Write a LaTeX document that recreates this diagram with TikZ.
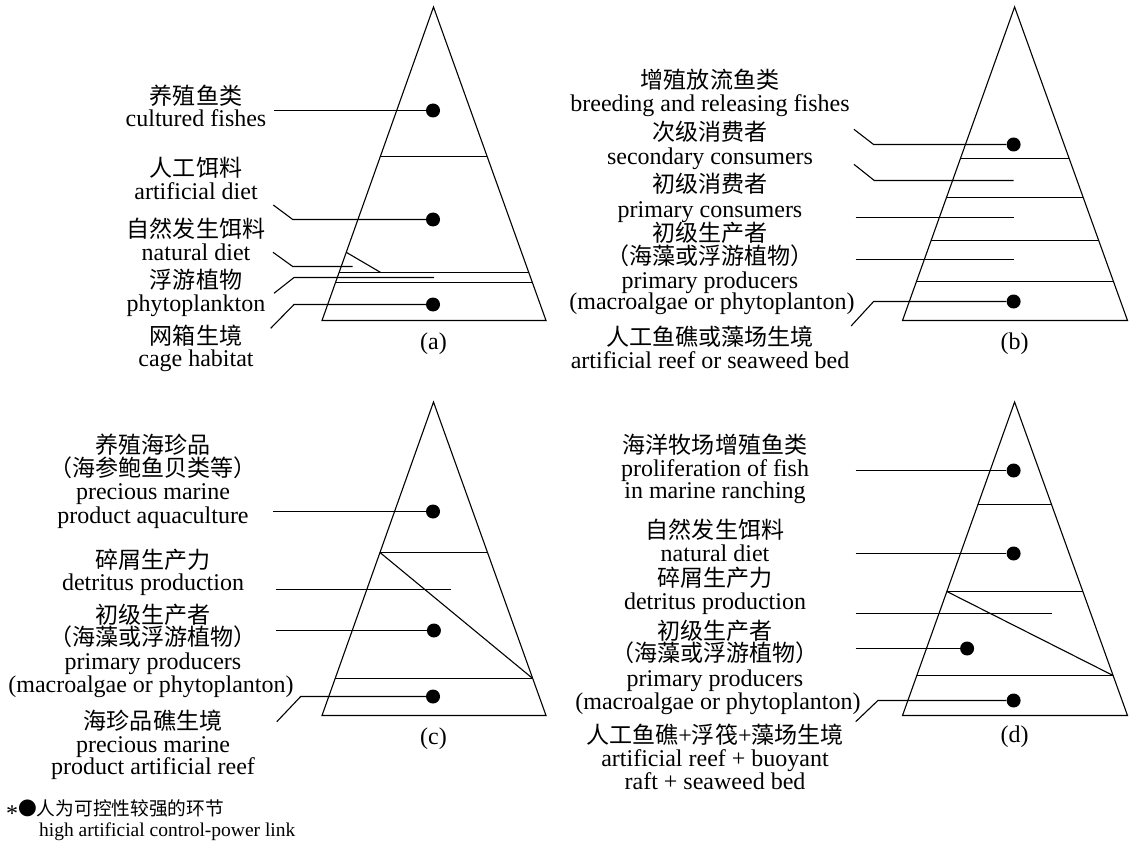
\documentclass[tikz,border=0pt]{standalone}
\usepackage{fontspec}
\setmainfont{Liberation Serif}
\newfontfamily\cjk{Noto Sans CJK SC}[Scale=0.96]
\usetikzlibrary{calc}

\tikzset{
  edge/.style={line width=1.1pt, line join=miter},
  dot/.style={circle, fill=black, inner sep=0pt, minimum size=14pt},
  txt/.style={anchor=base, inner sep=0pt, font=\fontsize{24}{24}\selectfont},
  note/.style={anchor=base west, inner sep=0pt, font=\fontsize{19.5}{19.5}\selectfont},
}
% one centred line of text, given by its visual centre
\newcommand\txtline[4]{\node[txt] (#1) at (#2,{#3+8}) {#4};}
% a layer boundary across pyramid #1 (apex y #2, base y #3) at height y #4
\newcommand\layer[4]{%
  \pgfmathsetmacro\lf{(#4-#2)/(#3-#2)}%
  \draw[edge] ($(#1T)!\lf!(#1L)$) -- ($(#1T)!\lf!(#1R)$);}
% a point on the left (#2=L) or right (#2=R) side of pyramid #1 at height y #5
\newcommand\sidept[6]{%
  \pgfmathsetmacro\lf{(#5-#3)/(#4-#3)}%
  \coordinate (#6) at ($(#1T)!\lf!(#1#2)$);}

\begin{document}
\begin{tikzpicture}[x=1pt, y=-1pt]
\useasboundingbox (0,0) rectangle (1129,842);

% ---------------- pyramid (a) ----------------
\coordinate (aT) at (433.5,7);
\coordinate (aL) at (322,320.5);
\coordinate (aR) at (546,320.5);
\draw[edge] (aT) -- (aL) -- (aR) -- cycle;
\layer{a}{7}{320.5}{156.5}
\layer{a}{7}{320.5}{272.5}
\layer{a}{7}{320.5}{282.5}
\sidept{a}{L}{7}{320.5}{252.3}{aDs}
\coordinate (aDe) at (380.7,272.5);
\draw[edge] (aDs) -- (aDe);

\node[dot] (aD1) at (433,110.5) {};
\node[dot] (aD2) at (433,219.5) {};
\node[dot] (aD3) at (433,304.5) {};
\coordinate (aS1) at (274,110.5);
\coordinate (aS2) at (273.3,205);   \coordinate (aK2) at (292.7,219.5);
\coordinate (aS3) at (273,252.3);   \coordinate (aK3) at (292.7,266.5); \coordinate (aE3) at (352.7,266.5);
\coordinate (aS4) at (274,293.3);   \coordinate (aK4) at (294,277.5);   \coordinate (aE4) at (434,277.5);
\coordinate (aS5) at (270.7,328.3); \coordinate (aK5) at (294,304.5);
\draw[edge] (aS1) -- (aD1);
\draw[edge] (aS2) -- (aK2) -- (aD2);
\draw[edge] (aS3) -- (aK3) -- (aE3);
\draw[edge] (aS4) -- (aK4) -- (aE4);
\draw[edge] (aS5) -- (aK5) -- (aD3);

\txtline{a1}{196}{96.7}{\cjk 养殖鱼类}
\txtline{a2}{196}{119}{cultured fishes}
\txtline{a3}{196}{168.3}{\cjk 人工饵料}
\txtline{a4}{196}{191.7}{artificial diet}
\txtline{a5}{196}{230}{\cjk 自然发生饵料}
\txtline{a6}{196}{252.3}{natural diet}
\txtline{a7}{196}{280}{\cjk 浮游植物}
\txtline{a8}{196}{303.3}{phytoplankton}
\txtline{a9}{196}{336.7}{\cjk 网箱生境}
\txtline{a10}{196}{358.3}{cage habitat}
\txtline{aCap}{433.5}{341.7}{(a)}

% ---------------- pyramid (b) ----------------
\coordinate (bT) at (1014.6,7);
\coordinate (bL) at (902.5,320.5);
\coordinate (bR) at (1127.5,320.5);
\draw[edge] (bT) -- (bL) -- (bR) -- cycle;
\layer{b}{7}{320.5}{158.5}
\layer{b}{7}{320.5}{197.5}
\layer{b}{7}{320.5}{240.5}
\layer{b}{7}{320.5}{281.5}

\node[dot] (bD1) at (1013.6,144.5) {};
\node[dot] (bD2) at (1013.6,301.5) {};
\coordinate (bS1) at (853.9,129.3); \coordinate (bK1) at (873.6,144.5);
\coordinate (bS2) at (853.9,164.3); \coordinate (bK2) at (874.3,180.5); \coordinate (bE2) at (1013.6,180.5);
\coordinate (bS3) at (855.7,217.5); \coordinate (bE3) at (1013.6,217.5);
\coordinate (bS4) at (855.7,259.5); \coordinate (bE4) at (1013.6,259.5);
\coordinate (bS5) at (851.1,326);   \coordinate (bK5) at (873.6,301.5);
\draw[edge] (bS1) -- (bK1) -- (bD1);
\draw[edge] (bS2) -- (bK2) -- (bE2);
\draw[edge] (bS3) -- (bE3);
\draw[edge] (bS4) -- (bE4);
\draw[edge] (bS5) -- (bK5) -- (bD2);

\txtline{b1}{710}{81}{\cjk 增殖放流鱼类}
\txtline{b2}{710}{103.3}{breeding and releasing fishes}
\txtline{b3}{710}{132.7}{\cjk 次级消费者}
\txtline{b4}{710}{156.7}{secondary consumers}
\txtline{b5}{710}{185}{\cjk 初级消费者}
\txtline{b6}{710}{210}{primary consumers}
\txtline{b7}{710}{233.3}{\cjk 初级生产者}
\txtline{b8}{710}{256.7}{\cjk （海藻或浮游植物）}
\txtline{b9}{710}{280}{primary producers}
\txtline{b10}{712}{301.7}{(macroalgae or phytoplanton)}
\txtline{b11}{710}{337.5}{\cjk 人工鱼礁或藻场生境}
\txtline{b12}{710}{360.5}{artificial reef or seaweed bed}
\txtline{bCap}{1014.6}{341}{(b)}

% ---------------- pyramid (c) ----------------
\coordinate (cT) at (433.5,402);
\coordinate (cL) at (322,715.5);
\coordinate (cR) at (546,715.5);
\draw[edge] (cT) -- (cL) -- (cR) -- cycle;
\layer{c}{402}{715.5}{552.5}
\layer{c}{402}{715.5}{678.5}
\sidept{c}{L}{402}{715.5}{552.5}{cDs}
\sidept{c}{R}{402}{715.5}{678.5}{cDe}
\draw[edge] (cDs) -- (cDe);

\node[dot] (cD1) at (433,511.5) {};
\node[dot] (cD2) at (433.9,630.5) {};
\node[dot] (cD3) at (433,696.5) {};
\coordinate (cS1) at (273.2,511.5);
\coordinate (cS2) at (275.7,589.5); \coordinate (cE2) at (450.7,589.5);
\coordinate (cS3) at (275.7,630.5);
\coordinate (cS4) at (276.8,721.7); \coordinate (cK4) at (300.7,696.5);
\draw[edge] (cS1) -- (cD1);
\draw[edge] (cS2) -- (cE2);
\draw[edge] (cS3) -- (cD2);
\draw[edge] (cS4) -- (cK4) -- (cD3);

\txtline{c1}{153}{445}{\cjk 养殖海珍品}
\txtline{c2}{153}{468.3}{\cjk （海参鲍鱼贝类等）}
\txtline{c3}{153}{491.7}{precious marine}
\txtline{c4}{153}{515}{product aquaculture}
\txtline{c5}{153}{560}{\cjk 碎屑生产力}
\txtline{c6}{153}{582.7}{detritus production}
\txtline{c7}{153}{615}{\cjk 初级生产者}
\txtline{c8}{153}{637.3}{\cjk （海藻或浮游植物）}
\txtline{c9}{153}{661.7}{primary producers}
\txtline{c10}{151}{684}{(macroalgae or phytoplanton)}
\txtline{c11}{153}{721.7}{\cjk 海珍品礁生境}
\txtline{c12}{153}{744}{precious marine}
\txtline{c13}{153}{766.7}{product artificial reef}
\txtline{cCap}{433.5}{736.7}{(c)}

% ---------------- pyramid (d) ----------------
\coordinate (dT) at (1014.6,402);
\coordinate (dL) at (902.5,715.5);
\coordinate (dR) at (1127.5,715.5);
\draw[edge] (dT) -- (dL) -- (dR) -- cycle;
\layer{d}{402}{715.5}{504.5}
\layer{d}{402}{715.5}{591.5}
\layer{d}{402}{715.5}{675.5}
\sidept{d}{L}{402}{715.5}{591.5}{dDs}
\sidept{d}{R}{402}{715.5}{675.5}{dDe}
\draw[edge] (dDs) -- (dDe);

\node[dot] (dD1) at (1013.6,470.5) {};
\node[dot] (dD2) at (1013.6,553.5) {};
\node[dot] (dD3) at (967.1,648.5) {};
\node[dot] (dD4) at (1013.6,700.5) {};
\coordinate (dS1) at (855.7,470.5);
\coordinate (dS2) at (855.7,553.5);
\coordinate (dS3) at (855.7,613.5); \coordinate (dE3) at (1051.8,613.5);
\coordinate (dS4) at (855.7,648.5);
\coordinate (dS5) at (855.7,721.7); \coordinate (dK5) at (877.9,700.5);
\draw[edge] (dS1) -- (dD1);
\draw[edge] (dS2) -- (dD2);
\draw[edge] (dS3) -- (dE3);
\draw[edge] (dS4) -- (dD3);
\draw[edge] (dS5) -- (dK5) -- (dD4);

\txtline{d1}{715}{445}{\cjk 海洋牧场增殖鱼类}
\txtline{d2}{715}{468.3}{proliferation of fish}
\txtline{d3}{715}{490}{in marine ranching}
\txtline{d4}{715}{530}{\cjk 自然发生饵料}
\txtline{d5}{715}{553.3}{natural diet}
\txtline{d6}{715}{578.3}{\cjk 碎屑生产力}
\txtline{d7}{715}{601.7}{detritus production}
\txtline{d8}{715}{631.7}{\cjk 初级生产者}
\txtline{d9}{715}{653.3}{\cjk （海藻或浮游植物）}
\txtline{d10}{715}{678.3}{primary producers}
\txtline{d11}{718}{701.7}{(macroalgae or phytoplanton)}
\txtline{d12}{715}{735}{{\cjk 人工鱼礁}+{\cjk 浮筏}+{\cjk 藻场生境}}
\txtline{d13}{715}{758}{artificial reef + buoyant}
\txtline{d14}{715}{781}{raft + seaweed bed}
\txtline{dCap}{1014.6}{734}{(d)}

% ---------------- footnote ----------------
\node[note] (n1) at (6,815) {{\fontsize{24}{24}\selectfont\raisebox{-6pt}{*}}{\cjk ●人为可控性较强的环节}};
\node[note] (n2) at (39,836) {high artificial control-power link};
\end{tikzpicture}
\end{document}
